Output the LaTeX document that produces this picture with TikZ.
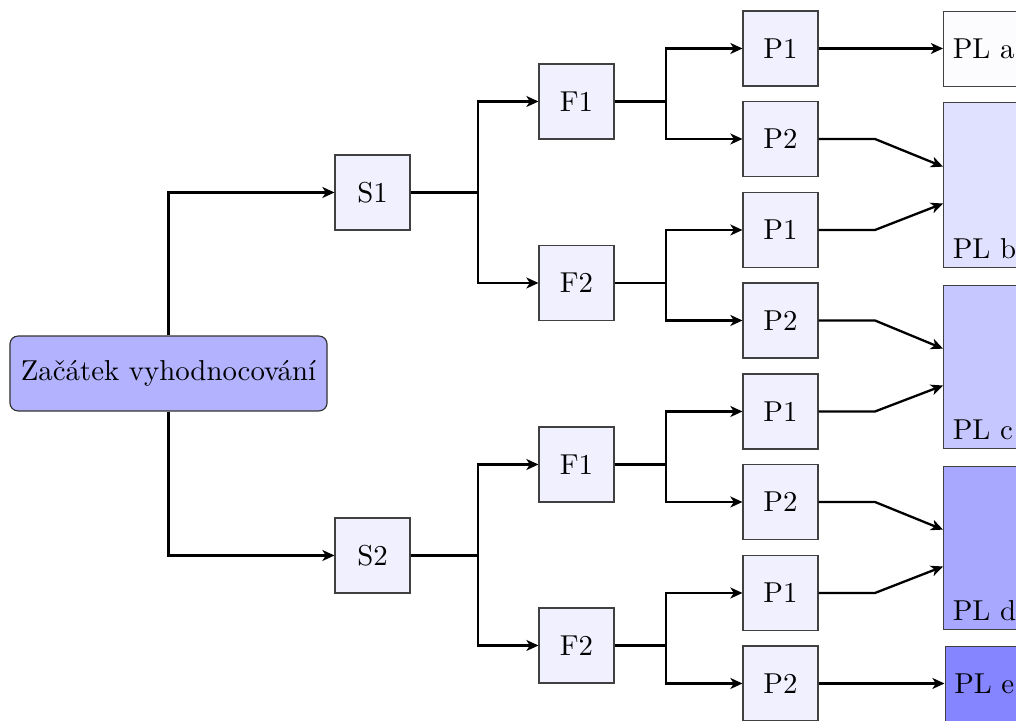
\documentclass[tikz,border=0pt]{standalone}
\usetikzlibrary{arrows.meta,positioning}
\begin{document}
\begin{tikzpicture}[
  x=0.3472pt, y=-0.3472pt,
  conn/.style={line width=0.8pt, -{Stealth[length=4.2pt,width=3.8pt,inset=1.2pt]}},
  smallbox/.style={draw=black!75, fill=blue!6, minimum width=26pt, minimum height=26pt, inner sep=0pt},
  startbox/.style={draw=black!80, fill=blue!30, rounded corners=2.8pt, minimum width=110.1pt, minimum height=26pt, inner sep=0pt},
  plbox/.style={draw=black!75, anchor=north west, minimum width=40pt, inner sep=0pt},
  pltext/.style={inner sep=3.2pt}
]
\clip (0,0) rectangle (1016,721);
\useasboundingbox (0,0) rectangle (1016,721);

% root and first level
\node[startbox] (start) at (168.5,373.5) {Začátek vyhodnocování};
\node[smallbox] (s1) at (372.5,192.5) {S1};
\node[smallbox] (s2) at (372.5,555.5) {S2};

% second level
\node[smallbox] (f11) at (576.5,101.5) {F1};
\node[smallbox] (f12) at (576.5,283) {F2};
\node[smallbox] (f21) at (576.5,464.5) {F1};
\node[smallbox] (f22) at (576.5,645.5) {F2};

% third level
\node[smallbox] (p111) at (780.5,48.5) {P1};
\node[smallbox] (p112) at (780.5,139) {P2};
\node[smallbox] (p121) at (780.5,230) {P1};
\node[smallbox] (p122) at (780.5,320.5) {P2};
\node[smallbox] (p211) at (780.5,411.5) {P1};
\node[smallbox] (p212) at (780.5,502) {P2};
\node[smallbox] (p221) at (780.5,593) {P1};
\node[smallbox] (p222) at (780.5,683.5) {P2};

% result boxes
\node[plbox, fill=blue!1, minimum height=26pt] (pla) at (943,11) {};
\node[pltext, anchor=west] (plat) at (pla.west) {PL a};
\node[plbox, fill=blue!12, minimum height=57.3pt] (plb) at (943,102) {};
\node[pltext, anchor=south west] (plbt) at (plb.south west) {PL b};
\node[plbox, fill=blue!22, minimum height=56.6pt] (plc) at (943,285) {};
\node[pltext, anchor=south west] (plct) at (plc.south west) {PL c};
\node[plbox, fill=blue!34, minimum height=56.6pt] (pld) at (943,466) {};
\node[pltext, anchor=south west] (pldt) at (pld.south west) {PL d};
\node[plbox, fill=blue!48, minimum height=26pt] (ple) at (944.5,646) {};
\node[pltext, anchor=west] (plet) at (ple.west) {PL e};

% root to S
\draw[conn] (start.north) |- (s1.west);
\draw[conn] (start.south) |- (s2.west);

% S to F
\foreach \s/\a/\b in {s1/f11/f12, s2/f21/f22}{
  \draw[conn] (\s.east) -- (478,0 |- \s.east) |- (\a.west);
  \draw[conn] (\s.east) -- (478,0 |- \s.east) |- (\b.west);
}

% F to P
\foreach \f/\a/\b in {f11/p111/p112, f12/p121/p122, f21/p211/p212, f22/p221/p222}{
  \draw[conn] (\f.east) -- (666,0 |- \f.east) |- (\a.west);
  \draw[conn] (\f.east) -- (666,0 |- \f.east) |- (\b.west);
}

% P to PL
\draw[conn] (p111.east) -- (p111.east -| pla.west);
\draw[conn] (p222.east) -- (p222.east -| ple.west);
\foreach \pu/\pd/\pl in {p112/p121/plb, p122/p211/plc, p212/p221/pld}{
  \draw[conn] (\pu.east) -- (875,0 |- \pu.east) -- ([yshift=6.4pt]\pl.west);
  \draw[conn] (\pd.east) -- (875,0 |- \pd.east) -- ([yshift=-6.4pt]\pl.west);
}
\end{tikzpicture}
\end{document}
